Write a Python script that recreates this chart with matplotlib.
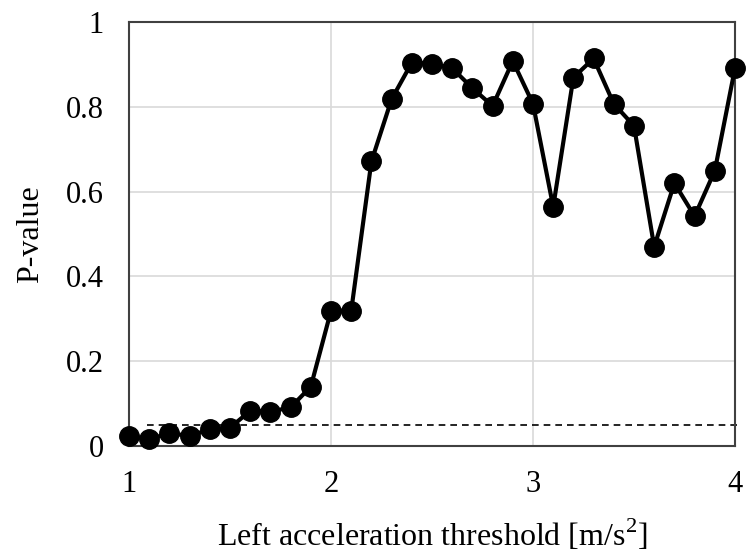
import matplotlib
matplotlib.use("Agg")
import matplotlib.pyplot as plt

# threshold sweep and resulting p-values
thresholds = [1.0, 1.1, 1.2, 1.3, 1.4, 1.5, 1.6, 1.7, 1.8, 1.9,
              2.0, 2.1, 2.2, 2.3, 2.4, 2.5, 2.6, 2.7, 2.8, 2.9,
              3.0, 3.1, 3.2, 3.3, 3.4, 3.5, 3.6, 3.7, 3.8, 3.9, 4.0]
p_values = [0.024, 0.016, 0.030, 0.024, 0.039, 0.043, 0.083, 0.081, 0.091, 0.140,
            0.319, 0.319, 0.671, 0.818, 0.904, 0.902, 0.891, 0.844, 0.802, 0.908,
            0.807, 0.564, 0.869, 0.914, 0.807, 0.755, 0.470, 0.620, 0.542, 0.649, 0.891]
significance = 0.05

x_ticks = [1, 2, 3, 4]
y_ticks = [0, 0.2, 0.4, 0.6, 0.8, 1.0]
y_tick_labels = ["0", "0.2", "0.4", "0.6", "0.8", "1"]

plt.rcParams["font.family"] = ["Liberation Serif", "DejaVu Serif"]
plt.rcParams["mathtext.fontset"] = "custom"
plt.rcParams["mathtext.rm"] = "Liberation Serif"

fig = plt.figure(figsize=(7.48, 5.57), dpi=100)
ax = fig.add_axes([0.1725, 0.1993, 0.8101, 0.7612])

ax.grid(True, color="#d9d9d9", linewidth=1.2, zorder=0)
ax.set_axisbelow(True)

ax.axhline(significance, xmin=0.03, xmax=1.005, color="black",
           linestyle=(0, (4, 3)), linewidth=1.2, clip_on=False, zorder=2)

ax.plot(thresholds, p_values, color="black", linewidth=3, marker="o",
        markersize=14, clip_on=False, zorder=3)

ax.set_xlim(1, 4)
ax.set_ylim(0, 1)
ax.set_xticks(x_ticks)
ax.set_xticklabels([str(t) for t in x_ticks])
ax.set_yticks(y_ticks)
ax.set_yticklabels(y_tick_labels)
ax.tick_params(length=0, labelsize=22)
ax.tick_params(axis="x", pad=17)
ax.tick_params(axis="y", pad=18)

for spine in ax.spines.values():
    spine.set_color("#404040")
    spine.set_linewidth(1.5)

ax.set_xlabel("Left acceleration threshold [m/s$^{2}$]", fontsize=23, labelpad=14)
ax.set_ylabel("P-value", fontsize=23, labelpad=15)

fig.savefig("out.png", dpi=100)
